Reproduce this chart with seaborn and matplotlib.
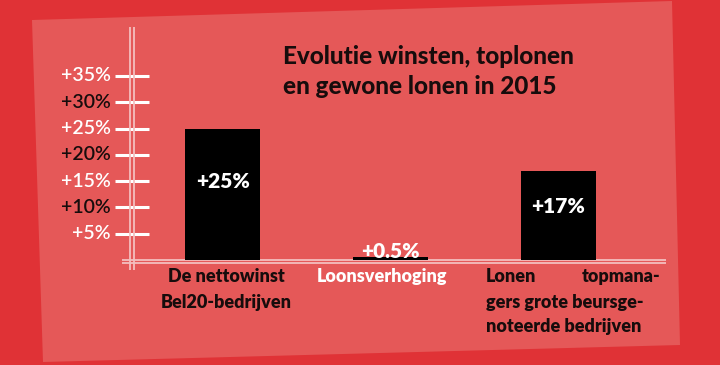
import matplotlib
matplotlib.use("Agg")
import matplotlib.pyplot as plt
import matplotlib.transforms as mtransforms
import seaborn as sns
import pandas as pd
from matplotlib.patches import Polygon

# ---- data ----
categories = ["De nettowinst Bel20-bedrijven", "Loonsverhoging",
              "Lonen topmanagers grote beursgenoteerde bedrijven"]
values = [25, 0.5, 17]
value_labels = ["+25%", "+0.5%", "+17%"]
tick_values = [5, 10, 15, 20, 25, 30, 35]
tick_labels = ["+5%", "+10%", "+15%", "+20%", "+25%", "+30%", "+35%"]
title_lines = ["Evolutie winsten, toplonen", "en gewone lonen in 2015"]
cat_label_lines = [["De nettowinst", "Bel20-bedrijven"],
                   ["Loonsverhoging"],
                   ["Lonen topmana-", "gers grote beursge-", "noteerde bedrijven"]]

sns.set_theme(style="white")
plt.rcParams['font.family'] = ['Lato', 'DejaVu Sans']

BG = "#E03236"
PANEL = "#E55858"
DARK = "#170C0C"
AXIS = "#F4BEBE"
W, H = 720, 365


def fx(x):
    return x / W


def fy(y):
    return 1 - y / H


fig = plt.figure(figsize=(7.2, 3.65), dpi=100, facecolor=BG)
panel = Polygon([(fx(32), fy(20)), (fx(672), fy(1)), (fx(680), fy(345)), (fx(43), fy(362))],
                closed=True, transform=fig.transFigure, facecolor=PANEL,
                edgecolor='none', zorder=-5)
fig.patches.append(panel)

ax = fig.add_axes([fx(122), fy(270), (666 - 122) / W, (270 - 27) / H])
ax.set_zorder(2)
ax.set_facecolor('none')
df = pd.DataFrame({"cat": categories, "val": values})
sns.barplot(data=df, x="cat", y="val", color="black", saturation=1, width=0.447,
            errorbar=None, ax=ax, zorder=3, edgecolor="none", linewidth=0)

ax.set_xlim(-0.602, 2.641)
ax.set_ylim(-1.9, 44.3)
for s in ax.spines.values():
    s.set_visible(False)
ax.spines['left'].set_position(('axes', 0.0178))

# axis double lines
ax.axhline(0, color=AXIS, lw=1.3, zorder=2)
ax.axhline(-0.6, color=AXIS, lw=1.3, zorder=2)
ax.axvline(-0.554, color=AXIS, lw=1.3, zorder=2)
ax.axvline(-0.532, color=AXIS, lw=1.3, zorder=2)

# y ticks: marks by matplotlib, labels with alternating colours
ax.set_yticks(tick_values)
ax.tick_params(axis='y', direction='inout', length=23.8, width=2.2, color='white',
               left=True, labelleft=False)
trans = mtransforms.blended_transform_factory(ax.transAxes, ax.transData)
tick_colors = ['white', DARK, 'white', DARK, 'white', DARK, 'white']
for v, lab, c in zip(tick_values, tick_labels, tick_colors):
    t = fig.text(-0.021, v, lab, transform=trans, ha='right', va='center',
                 fontsize=14, fontweight=600, color=c)
    t.set_color(c)
    t.set_fontweight(600)
ax.set_xticks([])
ax.set_xlabel('')
ax.set_ylabel('')

# value labels
for i, (v, lab) in enumerate(zip(values, value_labels)):
    y = v * 0.6 if v > 5 else v + 1.2
    ax.text(i, y, lab, ha='center', va='center', color='white', fontsize=15,
            fontweight=800, zorder=5)

# category labels
line_y = [-3.2, -8.0, -12.7]
kw = dict(va='center', fontsize=13, fontweight=800)
ax.text(0.02, line_y[0], cat_label_lines[0][0], ha='center', color=DARK, **kw)
ax.text(0.02, line_y[1], cat_label_lines[0][1], ha='center', color=DARK, **kw)
ax.text(0.95, line_y[0], cat_label_lines[1][0], ha='center', color='white', **kw)
first, second = cat_label_lines[2][0].split(" ")
ax.text(1.568, line_y[0], first, ha='left', color=DARK, **kw)
ax.text(2.605, line_y[0], second, ha='right', color=DARK, **kw)
for k, line in enumerate(cat_label_lines[2][1:], start=1):
    ax.text(1.568, line_y[k], line, ha='left', color=DARK, **kw)

# title
fig.text(fx(283), fy(57), title_lines[0], ha='left', va='center', fontsize=17.5,
         fontweight=900, color=DARK)
fig.text(fx(283), fy(87), title_lines[1], ha='left', va='center', fontsize=17.5,
         fontweight=900, color=DARK)

fig.savefig("out.png", dpi=100, facecolor=BG)
